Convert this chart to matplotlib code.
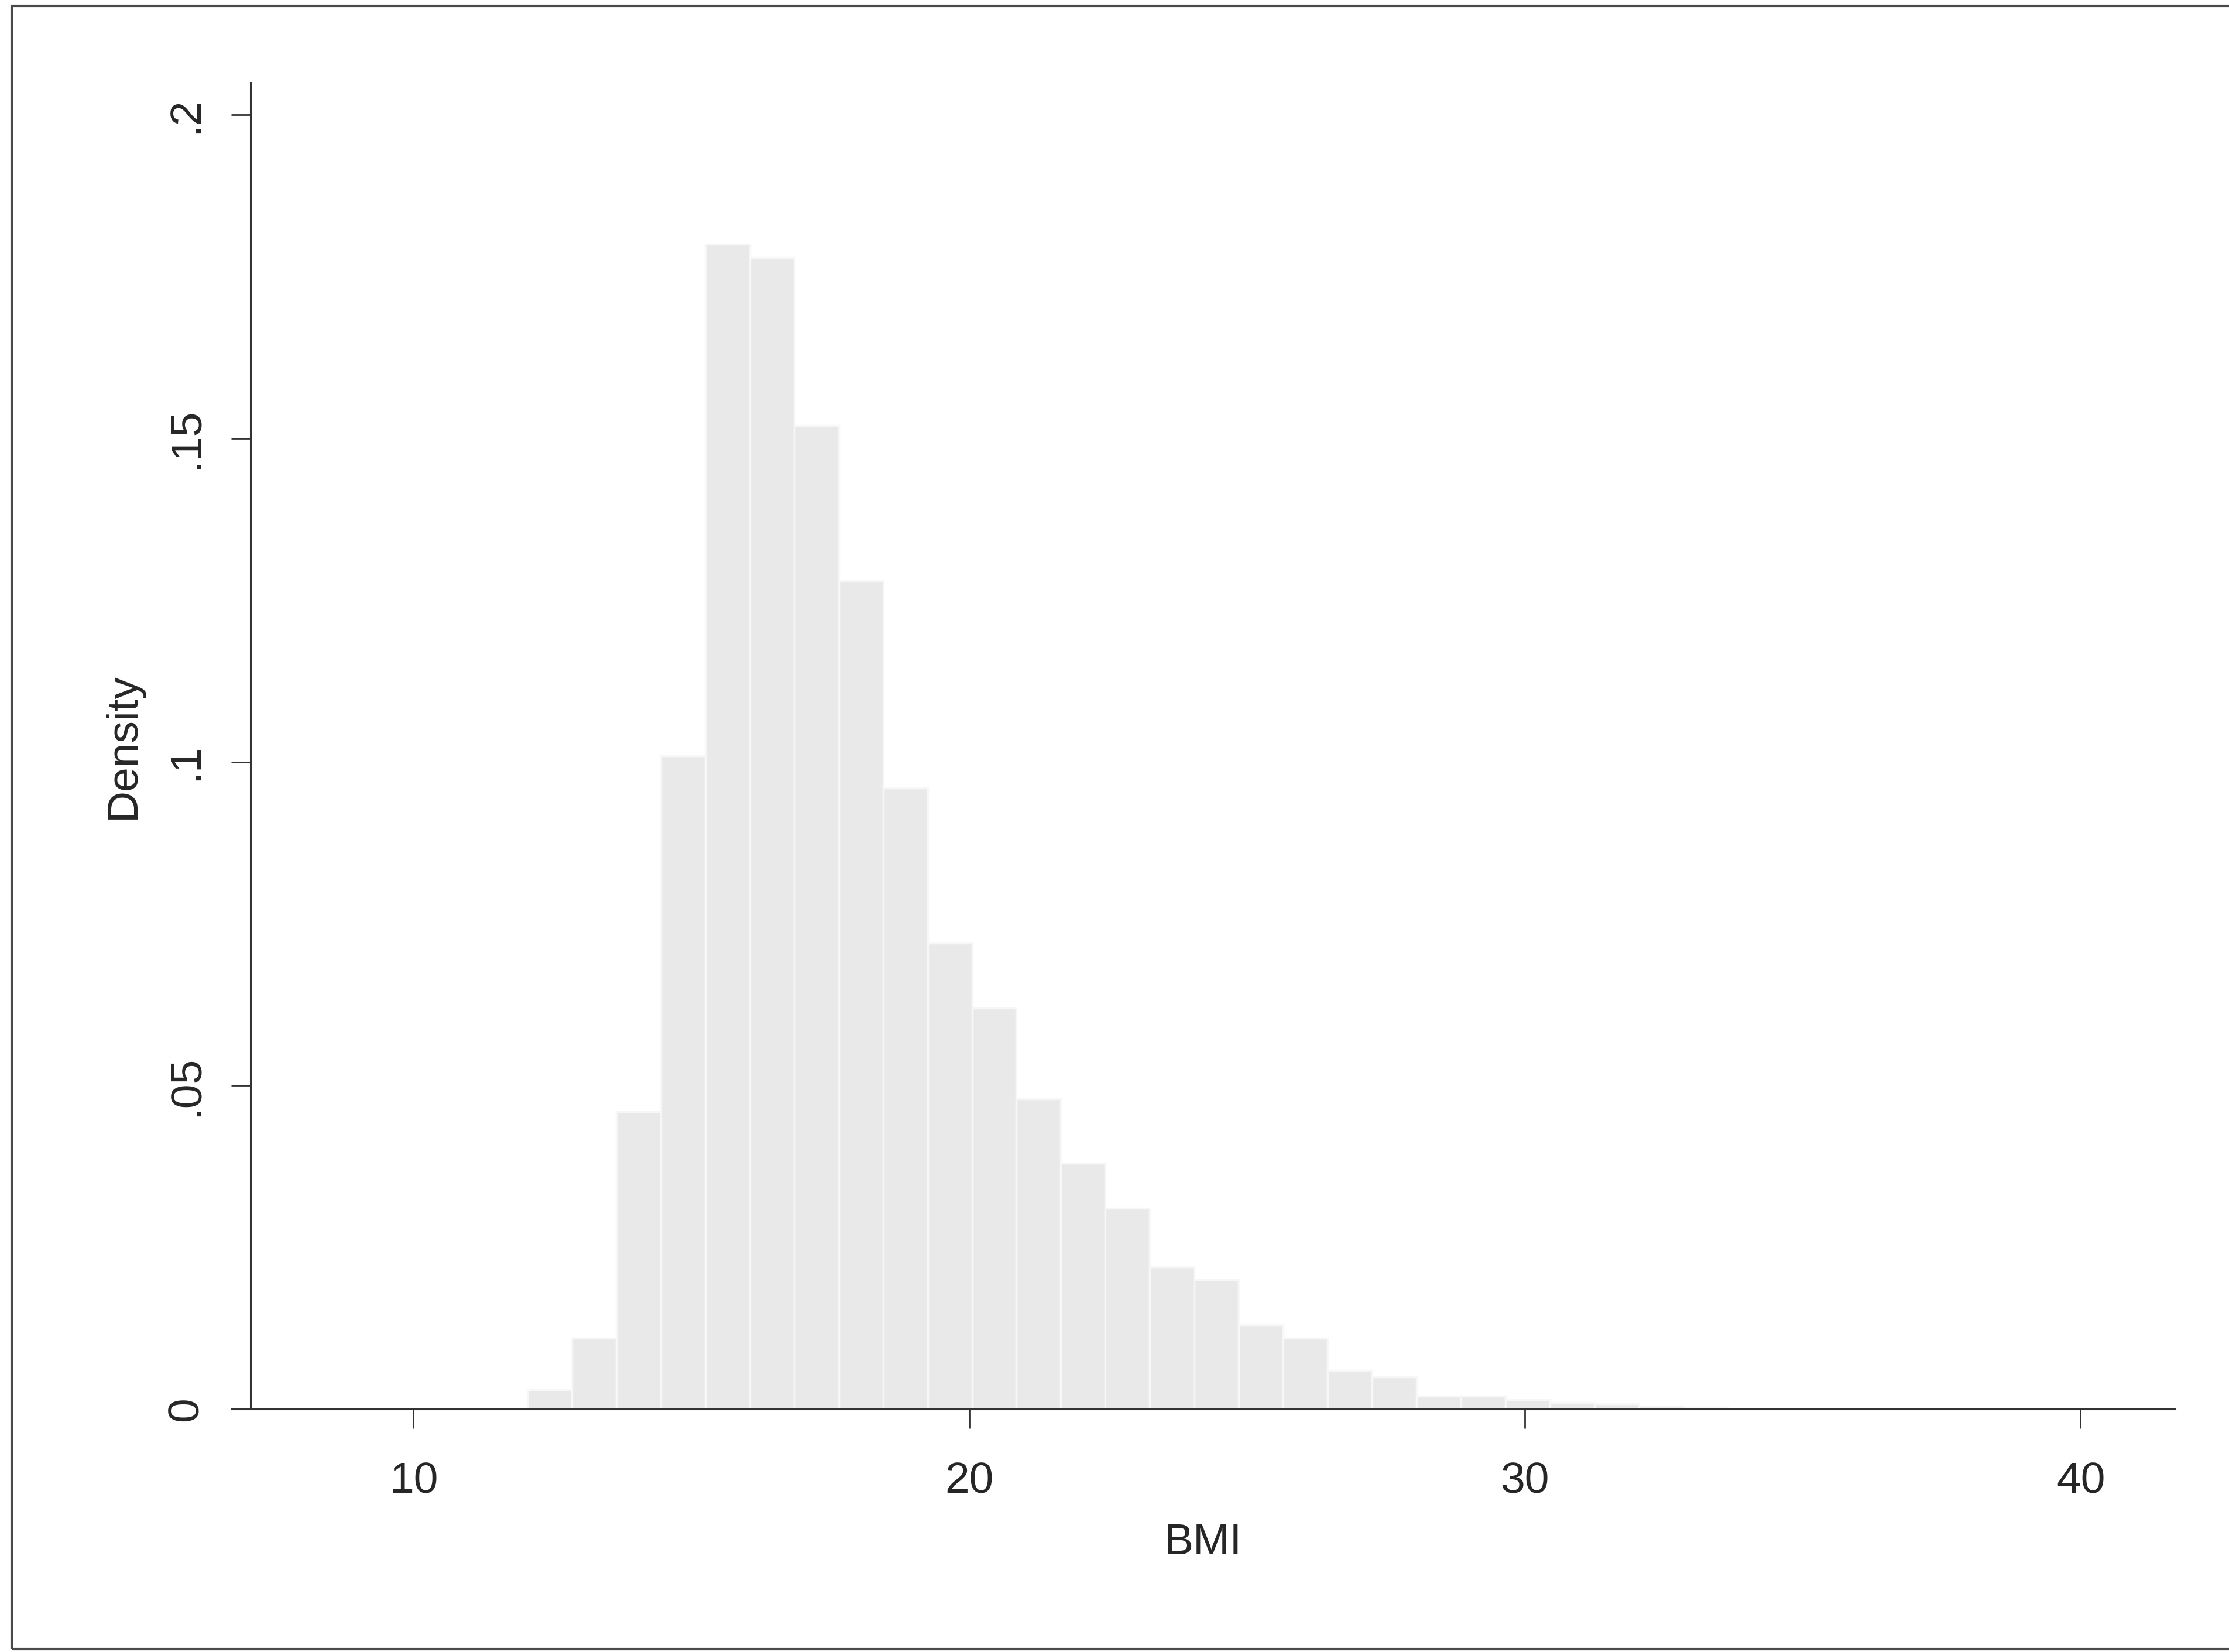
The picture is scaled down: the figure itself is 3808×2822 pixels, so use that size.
import matplotlib
matplotlib.use('Agg')
import matplotlib.pyplot as plt
from matplotlib.patches import Rectangle

# BMI histogram (density), bins
bin_left = [12.05, 12.85, 13.65, 14.45, 15.25, 16.05, 16.85, 17.65, 18.45,
            19.25, 20.05, 20.85, 21.65, 22.45, 23.25, 24.05, 24.85, 25.65,
            26.45, 27.25, 28.05, 28.85, 29.65, 30.45, 31.25, 32.05, 32.85]
bin_width = 0.8
density = [0.003, 0.011, 0.046, 0.101, 0.180, 0.178, 0.152, 0.128, 0.096,
           0.072, 0.062, 0.048, 0.038, 0.031, 0.022, 0.020, 0.013, 0.011,
           0.006, 0.005, 0.002, 0.002, 0.0015, 0.001, 0.0008, 0.0005, 0.0003]

xticks = [10, 20, 30, 40]
yticks = [0, 0.05, 0.1, 0.15, 0.2]
ytick_labels = ['0', '.05', '.1', '.15', '.2']

plt.rcParams['font.family'] = ['Liberation Sans', 'DejaVu Sans']
ink = '#262626'

fig = plt.figure(figsize=(38.08, 28.22), dpi=100)
fig.patch.set_facecolor('white')

# outer graph frame (right side runs off the scan)
fig.patches.append(Rectangle((0.0053, 0.0018), 1.05, 0.9947, transform=fig.transFigure,
                             fill=False, edgecolor='#4a4a4a', linewidth=3))

ax = fig.add_axes([0.1040, 0.147, 0.8718, 0.803])
ax.bar(bin_left, density, width=bin_width, align='edge',
       color='#e9e9e9', edgecolor='#f7f7f7', linewidth=2.5)

ax.set_xlim(6.73, 41.7)
ax.set_ylim(0, 0.205)

for s in ['top', 'right']:
    ax.spines[s].set_visible(False)
ax.spines['left'].set_position(('axes', 0.0095))
for s in ['left', 'bottom']:
    ax.spines[s].set_color('#333333')
    ax.spines[s].set_linewidth(2.2)

ax.set_xticks(xticks)
ax.set_yticks(yticks)
ax.set_yticklabels(ytick_labels, rotation=90, va='center')
ax.tick_params(axis='both', length=24, width=2, color='#333333',
               labelsize=54, labelcolor=ink)
ax.tick_params(axis='x', pad=40)
ax.tick_params(axis='y', pad=30)

ax.set_xlabel('BMI', fontsize=54, color=ink, labelpad=26)
ax.set_ylabel('Density', fontsize=54, color=ink, labelpad=28)

fig.savefig('out.png', dpi=100, facecolor='white')
